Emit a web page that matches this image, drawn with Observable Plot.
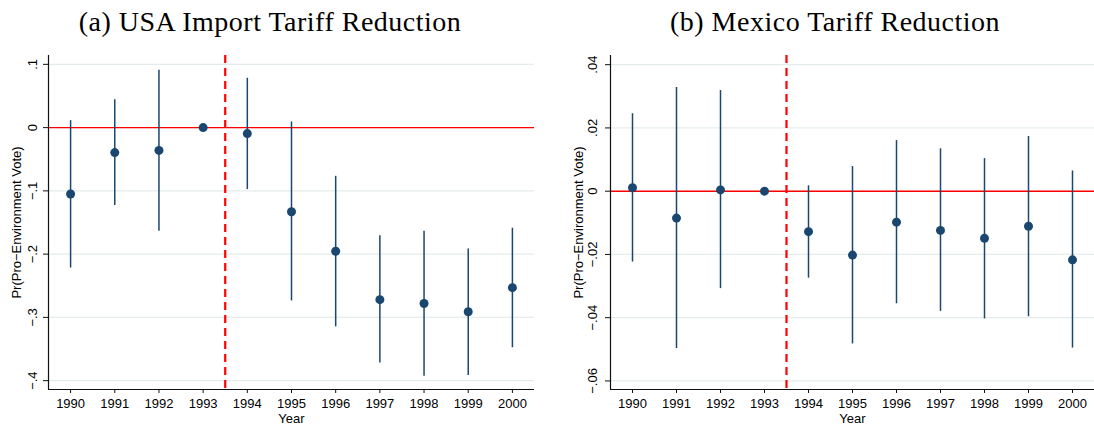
<!DOCTYPE html>
<html>
<head>
<meta charset="utf-8">
<script src="https://cdn.jsdelivr.net/npm/d3@7"></script>
<script src="https://cdn.jsdelivr.net/npm/@observablehq/plot@0.6"></script>
<style>
  body { margin: 0; background: #fff; }
  #wrap { position: relative; width: 1094px; height: 427px; overflow: hidden; background: #fff; }
  .title { position: absolute; top: 8px; font-family: "Liberation Serif", serif; font-size: 28px; line-height: 28px;
           letter-spacing: 0.5px; white-space: nowrap; transform: translateX(-50%); color: #000; }
  .panel { position: absolute; top: 36px; }
</style>
</head>
<body>
<div id="wrap"></div>
<script>
// ---- data ----
const years = [1990, 1991, 1992, 1993, 1994, 1995, 1996, 1997, 1998, 1999, 2000];

const usaEst = [-0.105, -0.0395, -0.036, 0, -0.0095, -0.133, -0.1955, -0.272, -0.278, -0.291, -0.253];
const usaLo  = [-0.222, -0.123, -0.164, 0, -0.098, -0.274, -0.315, -0.372, -0.393, -0.392, -0.348];
const usaHi  = [0.011, 0.044, 0.0905, 0, 0.078, 0.009, -0.077, -0.171, -0.164, -0.192, -0.159];

const mexEst = [0.0011, -0.0085, 0.0004, 0, -0.0128, -0.0202, -0.0098, -0.0124, -0.0149, -0.0111, -0.0217];
const mexLo  = [-0.0224, -0.0497, -0.0308, 0, -0.0275, -0.0483, -0.0356, -0.038, -0.0404, -0.0397, -0.0496];
const mexHi  = [0.0245, 0.0328, 0.0318, 0, 0.0017, 0.0078, 0.016, 0.0134, 0.0103, 0.0173, 0.0064];

const usaTicks = [0.1, 0, -0.1, -0.2, -0.3, -0.4];
const mexTicks = [0.04, 0.02, 0, -0.02, -0.04, -0.06];

const zeroLine = [0];
const treatmentBreak = [1993.5];

const titles = ["(a) USA Import Tariff Reduction", "(b) Mexico Tariff Reduction"];
const yLabel = "Pr(Pro\u2212Environment Vote)";
const xLabel = "Year";

// ---- helpers ----
function stataFmt(decimals) {
  return d => d === 0 ? "0" : d3.format("." + decimals + "f")(d).replace("0.", ".");
}

function panel({est, lo, hi, ticks, fmt, yDomain, marginLeft, marginRight, tickDx}) {
  const data = years.map((y, i) => ({year: y, est: est[i], lo: lo[i], hi: hi[i]}));
  const xDomain = [years[0] - 0.5, years[years.length - 1] + 0.5];
  const navy = "#1a476f";
  return Plot.plot({
    width: 547,
    height: 391,
    marginLeft,
    marginRight,
    marginTop: 19,
    marginBottom: 38,
    style: {fontFamily: "'Liberation Sans', Arial, sans-serif", fontSize: "13px", color: "#000", background: "#fff", overflow: "visible"},
    x: {domain: xDomain},
    y: {domain: yDomain},
    marks: [
      Plot.gridY(ticks, {stroke: "#e4ecec", strokeOpacity: 1, strokeWidth: 1.2}),
      Plot.ruleY(zeroLine, {stroke: "#ff0000", strokeWidth: 1.4}),
      Plot.ruleX(treatmentBreak, {stroke: "#ff0000", strokeWidth: 2.2, strokeDasharray: "8,5"}),
      Plot.ruleX(data, {x: "year", y1: "lo", y2: "hi", stroke: navy, strokeWidth: 1.5}),
      Plot.dot(data, {x: "year", y: "est", r: 4.5, fill: navy, stroke: "none"}),
      // axis lines
      Plot.ruleX([xDomain[0]], {stroke: "#111", strokeWidth: 1.2}),
      Plot.ruleY([yDomain[0]], {stroke: "#111", strokeWidth: 1.2}),
      // y ticks + rotated labels
      Plot.axisY(ticks, {tickSize: 5, tickFormat: () => "", label: null, stroke: "#111"}),
      Plot.text(ticks, {y: d => d, text: fmt, frameAnchor: "left", dx: tickDx, rotate: -90,
                        textAnchor: "middle", lineAnchor: "middle", fill: "#000"}),
      // x ticks + labels
      Plot.axisX(years, {tickSize: 4, tickPadding: 5, tickFormat: d => String(d), label: null, stroke: "#111", fill: "#000"}),
      // axis titles
      Plot.text([xLabel], {text: d => d, frameAnchor: "bottom", dy: 29, lineAnchor: "middle", fill: "#000"}),
      Plot.text([yLabel], {text: d => d, frameAnchor: "left", dx: -32, rotate: -90, lineAnchor: "middle", textAnchor: "middle", fill: "#000"})
    ]
  });
}

const wrap = document.getElementById("wrap");

const left = panel({est: usaEst, lo: usaLo, hi: usaHi, ticks: usaTicks, fmt: stataFmt(1),
                    yDomain: [-0.414, 0.114], marginLeft: 48, marginRight: 13, tickDx: -15.5});
left.classList.add("panel");
left.style.left = "0px";
wrap.appendChild(left);

const right = panel({est: mexEst, lo: mexLo, hi: mexHi, ticks: mexTicks, fmt: stataFmt(2),
                     yDomain: [-0.0627, 0.0429], marginLeft: 63, marginRight: 0, tickDx: -18});
right.classList.add("panel");
right.style.left = "547px";
wrap.appendChild(right);

const titleCenters = [270, 835];
titles.forEach((t, i) => {
  const div = document.createElement("div");
  div.className = "title";
  div.textContent = t;
  div.style.left = titleCenters[i] + "px";
  wrap.appendChild(div);
});
</script>
</body>
</html>
